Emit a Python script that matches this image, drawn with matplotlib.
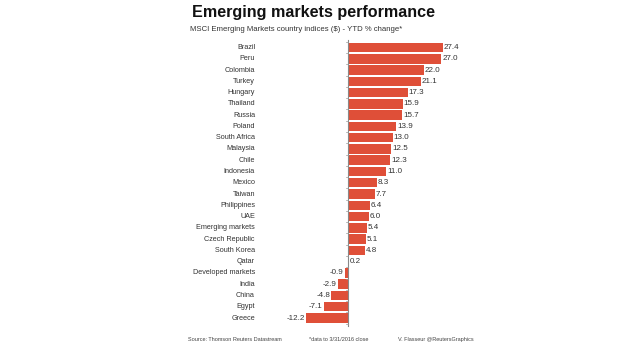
import matplotlib
matplotlib.use("Agg")
import matplotlib.pyplot as plt

countries = ["Brazil", "Peru", "Colombia", "Turkey", "Hungary", "Thailand", "Russia",
             "Poland", "South Africa", "Malaysia", "Chile", "Indonesia", "Mexico",
             "Taiwan", "Philippines", "UAE", "Emerging markets", "Czech Republic",
             "South Korea", "Qatar", "Developed markets", "India", "China", "Egypt", "Greece"]
values = [27.4, 27.0, 22.0, 21.1, 17.3, 15.9, 15.7, 13.9, 13.0, 12.5, 12.3, 11.0, 8.3,
          7.7, 6.4, 6.0, 5.4, 5.1, 4.8, 0.2, -0.9, -2.9, -4.8, -7.1, -12.2]

plt.rcParams['font.family'] = ['Liberation Sans', 'DejaVu Sans']

W, H = 620, 354
fig = plt.figure(figsize=(W/100, H/100), dpi=100)
fig.patch.set_facecolor("white")

# axes in pixel coordinates
ax_left, ax_right = 290, 470
ax_top, ax_bot = 40, 330
ax = fig.add_axes([ax_left/W, 1-ax_bot/H, (ax_right-ax_left)/W, (ax_bot-ax_top)/H])

n = len(countries)
ypos = list(range(n))
color = "#DF4F38"
ax.barh(ypos, values, height=0.84, color=color, edgecolor="none", zorder=2)

scale = 3.45  # px per unit
zero_px = 348
ax.set_xlim(-(zero_px-ax_left)/scale, (ax_right-zero_px)/scale)
spacing = (318-47.5)/(n-1)
ax.set_ylim(n-1 + (ax_bot-318)/spacing, -(47.5-ax_top)/spacing)

for s in ax.spines.values():
    s.set_visible(False)
ax.set_xticks([])
ax.set_yticks([])

ax.plot([0, 0], [-0.5 - 0.2, n-1+0.7], color="#888888", lw=0.8, zorder=3, clip_on=False)
for i in range(n+1):
    ax.plot([-0.6, 0], [i-0.5, i-0.5], color="#999999", lw=0.5, zorder=3)

for i, (c, v) in enumerate(zip(countries, values)):
    ax.text(-(zero_px-255)/scale, i, c, ha="right", va="center", fontsize=5.2, color="#333333")
    if v >= 0:
        ax.text(v + 0.3, i, f"{v:.1f}", ha="left", va="center", fontsize=5.8, color="#333333")
    else:
        ax.text(v - 0.3, i, f"{v:.1f}", ha="right", va="center", fontsize=5.8, color="#333333")

fig.text(313/W, 1-13/H, "Emerging markets performance", ha="center", va="center",
         fontsize=11.6, fontweight="bold", color="#111111")
fig.text(190/W, 1-29.5/H, "MSCI Emerging Markets country indices ($) - YTD % change*",
         ha="left", va="center", fontsize=5.6, color="#333333")

fy = 1 - 341/H
fig.text(188/W, fy, "Source: Thomson Reuters Datastream", ha="left", va="baseline",
         fontsize=4.0, color="#444444")
fig.text(309/W, fy, "*data to 3/31/2016 close", ha="left", va="baseline",
         fontsize=4.0, color="#444444")
fig.text(398/W, fy, "V. Flasseur @ReutersGraphics", ha="left", va="baseline",
         fontsize=4.0, color="#444444")

fig.savefig("out.png", dpi=100, facecolor="white")
